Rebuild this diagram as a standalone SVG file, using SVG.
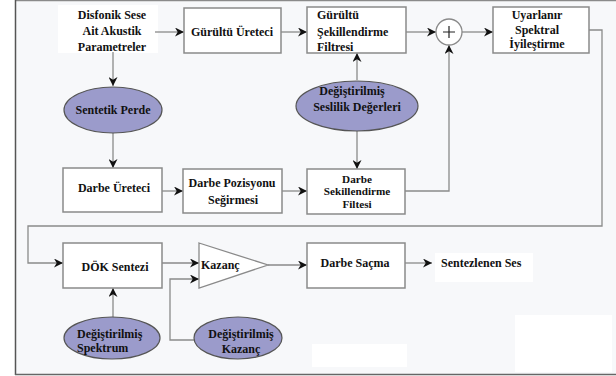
<svg xmlns="http://www.w3.org/2000/svg" width="616" height="376" viewBox="0 0 616 376" font-family="'Liberation Serif', 'Times New Roman', 'DejaVu Serif', serif">
<style>
text{font-family:'Liberation Serif','Times New Roman','DejaVu Serif',serif;font-weight:bold;font-size:12px;fill:#111}
.sm{font-size:11.2px}
.box{fill:#fff;stroke:#8a8a8a;stroke-width:1.5}
.ell{fill:#9b9bcb;stroke:#555;stroke-width:1.2}
.c{text-anchor:middle}
.ln{fill:none;stroke:#8a8a8a;stroke-width:1.3}
.patch{fill:#fff}
</style>
<defs>
<marker id="ah" viewBox="0 0 10 10" refX="10" refY="5" markerWidth="9" markerHeight="9" markerUnits="userSpaceOnUse" orient="auto">
<path d="M0,0 L10,5 L0,10 L3,5 z" fill="#111"/>
</marker>
</defs>
<rect x="0" y="0" width="616" height="376" fill="#fff"/>
<rect x="15" y="0" width="601" height="375" fill="#f7f8fa"/>
<line x1="15" y1="0.5" x2="616" y2="0.5" stroke="#8a8a8a" stroke-width="1.5"/>
<line x1="15.5" y1="0" x2="15.5" y2="375" stroke="#555" stroke-width="1.5"/>
<line x1="15" y1="374.5" x2="616" y2="374.5" stroke="#666" stroke-width="1.5"/>
<rect class="patch" x="58" y="5" width="100" height="48"/>
<rect class="patch" x="312" y="344" width="95" height="23"/>
<rect class="patch" x="515" y="315" width="97" height="57"/>
<rect class="patch" x="435" y="253" width="98" height="29"/>

<g id="connectors">
<path class="ln" d="M155,32 H184" marker-end="url(#ah)"/>
<path class="ln" d="M281,32 H307" marker-end="url(#ah)"/>
<path class="ln" d="M406,32 H436" marker-end="url(#ah)"/>
<path class="ln" d="M462,32 H493" marker-end="url(#ah)"/>
<path class="ln" d="M589,30 H602 V226 H28 V263 H63" marker-end="url(#ah)"/>
<path class="ln" d="M113,52 V86" marker-end="url(#ah)"/>
<path class="ln" d="M113,133 V168" marker-end="url(#ah)"/>
<path class="ln" d="M162,191 H183" marker-end="url(#ah)"/>
<path class="ln" d="M282,191 H307" marker-end="url(#ah)"/>
<path class="ln" d="M405,191 H449 V45" marker-end="url(#ah)"/>
<path class="ln" d="M357,80 V53" marker-end="url(#ah)"/>
<path class="ln" d="M357,131 V169" marker-end="url(#ah)"/>
<path class="ln" d="M162,263 H199" marker-end="url(#ah)"/>
<path class="ln" d="M195,340 H170 V279 H199" marker-end="url(#ah)"/>
<path class="ln" d="M268,265 H307" marker-end="url(#ah)"/>
<path class="ln" d="M113,318 V288" marker-end="url(#ah)"/>
<path class="ln" d="M405,263 H432" marker-end="url(#ah)"/>
</g>

<g id="akustik-parametreler">
<text class="c" x="112" y="19">Disfonik Sese</text>
<text class="c" x="112" y="35">Ait Akustik</text>
<text class="c" x="112" y="51">Parametreler</text>
</g>
<g id="gurultu-ureteci">
<rect class="box" x="184" y="8" width="97" height="45"/>
<text class="c" x="232" y="36">Gürültü Üreteci</text>
</g>
<g id="gurultu-sekillendirme">
<rect class="box" x="307" y="7" width="99" height="46"/>
<text x="317" y="19">Gürültü</text>
<text x="317" y="36">Şekillendirme</text>
<text x="317" y="51">Filtresi</text>
</g>
<g id="toplama">
<circle cx="449" cy="32" r="13" fill="#fff" stroke="#8a8a8a" stroke-width="1.3"/>
<path d="M443,32 H455 M449,26 V38" stroke="#222" stroke-width="1.2" fill="none"/>
</g>
<g id="uyarlanir">
<rect class="box" x="493" y="7" width="96" height="46"/>
<text class="c" x="537" y="19">Uyarlanır</text>
<text class="c" x="537" y="34">Spektral</text>
<text class="c" x="537" y="48">İyileştirme</text>
</g>
<g id="sentetik-perde">
<ellipse class="ell" cx="113" cy="110" rx="49" ry="23"/>
<text class="c" x="113" y="114">Sentetik Perde</text>
</g>
<g id="seslilik-degerleri">
<ellipse class="ell" cx="357" cy="106" rx="61" ry="25"/>
<text class="c" x="352" y="95">Değiştirilmiş</text>
<text class="c" x="357" y="111">Seslilik Değerleri</text>
</g>
<g id="darbe-ureteci">
<rect class="box" x="63" y="168" width="99" height="44"/>
<text class="c" x="114" y="192">Darbe Üreteci</text>
</g>
<g id="darbe-pozisyonu">
<rect class="box" x="183" y="169" width="99" height="44"/>
<text class="c" x="232" y="187">Darbe Pozisyonu</text>
<text class="c" x="233" y="204">Seğirmesi</text>
</g>
<g id="darbe-sekillendirme">
<rect class="box" x="307" y="169" width="98" height="45"/>
<text class="c sm" x="357" y="182.5">Darbe</text>
<text class="c sm" x="357" y="195">Sekillendirme</text>
<text class="c sm" x="357" y="207.5">Filtesi</text>
</g>
<g id="dok-sentezi">
<rect class="box" x="63" y="243" width="99" height="45"/>
<text class="c" x="115" y="271">DÖK Sentezi</text>
</g>
<g id="kazanc">
<path d="M199,243 L268,265 L199,288 Z" fill="#fff" stroke="#8a8a8a" stroke-width="1.3"/>
<text x="201" y="269">Kazanç</text>
</g>
<g id="darbe-sacma">
<rect class="box" x="307" y="243" width="98" height="45"/>
<text class="c" x="355" y="267">Darbe Saçma</text>
</g>
<g id="sentezlenen-ses">
<text x="441" y="267">Sentezlenen Ses</text>
</g>
<g id="degistirilmis-spektrum">
<ellipse class="ell" cx="112" cy="338" rx="48" ry="21"/>
<text x="77" y="338">Değiştirilmiş</text>
<text x="77" y="352">Spektrum</text>
</g>
<g id="degistirilmis-kazanc">
<ellipse class="ell" cx="238" cy="338" rx="44" ry="21"/>
<text class="c" x="241" y="338">Değiştirilmiş</text>
<text class="c" x="241" y="353">Kazanç</text>
</g>
</svg>
